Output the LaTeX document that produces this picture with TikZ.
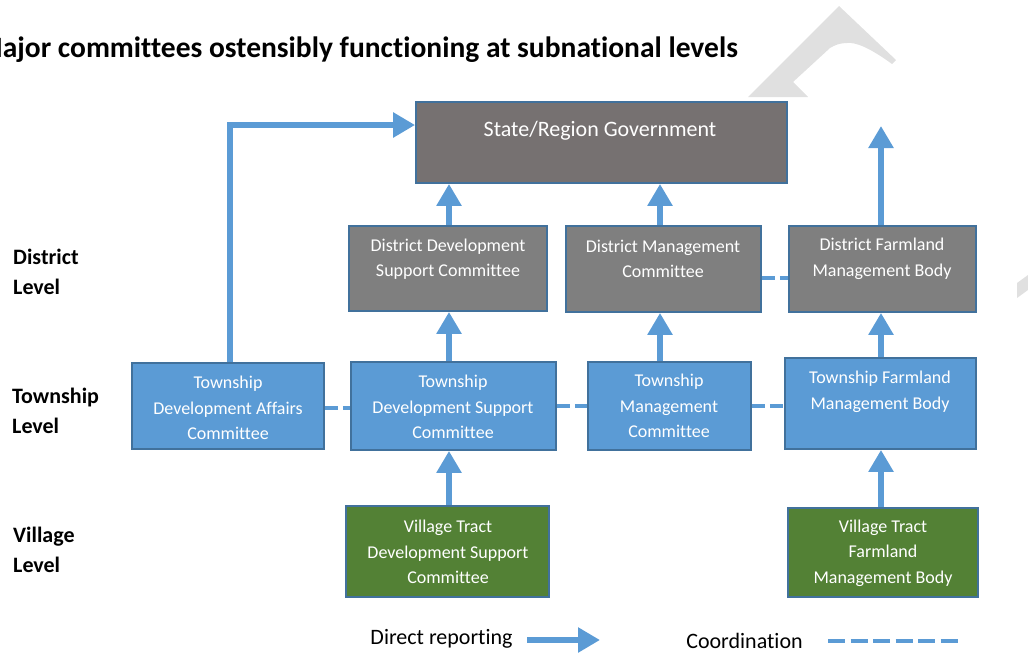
\documentclass[tikz,border=0pt]{standalone}
\usepackage{fontspec}
\setmainfont{Carlito}[Ligatures=NoCommon]
\usetikzlibrary{arrows.meta}

\definecolor{flowblue}{HTML}{5B9BD5}
\definecolor{edgeblue}{HTML}{41719C}
\definecolor{stategrey}{HTML}{767171}
\definecolor{distgrey}{HTML}{7F7F7F}
\definecolor{villgreen}{HTML}{538135}
\definecolor{markgrey}{HTML}{E0E0E0}

\begin{document}
\begin{tikzpicture}[x=1pt,y=-1pt,
  unit/.style={draw=edgeblue, line width=1.8pt, rectangle, inner sep=0pt},
  stateunit/.style={unit, fill=stategrey},
  distunit/.style={unit, fill=distgrey},
  townunit/.style={unit, fill=flowblue},
  villunit/.style={unit, fill=villgreen},
  boxtext/.style={text=white, align=center, inner sep=0pt,
    font=\fontsize{18}{25.5}\selectfont},
  leveltext/.style={anchor=west, align=left, inner sep=0pt,
    font=\bfseries\fontsize{22}{30}\selectfont},
  report/.style={draw=flowblue, line width=6.5pt,
    -{Triangle[width=24pt,length=22pt]}},
  coord/.style={draw=flowblue, line width=4.5pt, dash pattern=on 13pt off 5pt},
]
\useasboundingbox (0,0) rectangle (1028,654);

% faint watermark fragments
\fill[markgrey] (748,97) -- (839,6) -- (896,60) -- (892,64)
  .. controls (870,48) and (856,42) .. (847,43)
  .. controls (840,43) and (835,45) .. (830,48)
  -- (793,82) -- (808,97) -- cycle;
\fill[markgrey] (1017,283) -- (1028,275) -- (1028,290) -- (1017,298) -- cycle;

% title (runs past the left edge)
\node[anchor=east, inner sep=0pt, font=\bfseries\fontsize{29.5}{33}\selectfont]
  (title) at (738,50) {Major committees ostensibly functioning at subnational levels};

% level labels
\node[leveltext] (lvdist) at (13,272) {District\\Level};
\node[leveltext] (lvtown) at (12,410.5) {Township\\Level};
\node[leveltext] (lvvill) at (13,550) {Village\\Level};

% state level
\node[stateunit, minimum width=371pt, minimum height=81pt] (state) at (601.5,142.5) {};
\node[boxtext, font=\fontsize{22}{26}\selectfont] (statetx) at (600,131) {State/Region Government};

% district level
\node[distunit, minimum width=198pt, minimum height=85pt] (ddsc) at (448,268.5) {};
\node[boxtext] (ddsctx) at (448,259) {District Development\\Support Committee};
\node[distunit, minimum width=195pt, minimum height=86pt] (dmc) at (663.5,269) {};
\node[boxtext] (dmctx) at (663,259) {District Management\\Committee};
\node[distunit, minimum width=187pt, minimum height=86pt] (dfmb) at (882.5,269) {};
\node[boxtext] (dfmbtx) at (882,259) {District Farmland\\Management Body};

% township level
\node[townunit, minimum width=192pt, minimum height=86pt] (tdac) at (228,406) {};
\node[boxtext] (tdactx) at (228,408) {Township\\Development Affairs\\Committee};
\node[townunit, minimum width=205pt, minimum height=88pt] (tdsc) at (453.5,406) {};
\node[boxtext] (tdsctx) at (453,407) {Township\\Development Support\\Committee};
\node[townunit, minimum width=163pt, minimum height=88pt] (tmc) at (669.5,406) {};
\node[boxtext] (tmctx) at (669,406) {Township\\Management\\Committee};
\node[townunit, minimum width=191pt, minimum height=91pt] (tfmb) at (880.5,403.5) {};
\node[boxtext] (tfmbtx) at (880,392) {Township Farmland\\Management Body};

% village tract level
\node[villunit, minimum width=203pt, minimum height=91pt] (vtdsc) at (447.5,551.5) {};
\node[boxtext] (vtdsctx) at (448,552) {Village Tract\\Development Support\\Committee};
\node[villunit, minimum width=190pt, minimum height=89pt] (vtfmb) at (883,552.5) {};
\node[boxtext] (vtfmbtx) at (883,553) {Village Tract\\Farmland\\Management Body};

% direct reporting
\draw[report] ([xshift=1pt]ddsc.north) -- ([xshift=1pt]ddsc.north |- state.south);
\draw[report] ([xshift=-3.5pt]dmc.north) -- ([xshift=-3.5pt]dmc.north |- state.south);
\coordinate (dfmbout) at (881,126);
\draw[report] ([xshift=-1.5pt]dfmb.north) -- (dfmbout);
\draw[report] ([xshift=1pt]ddsc.south |- tdsc.north) -- ([xshift=1pt]ddsc.south);
\draw[report] ([xshift=-3.5pt]dmc.south |- tmc.north) -- ([xshift=-3.5pt]dmc.south);
\draw[report] ([xshift=-1.5pt]dfmb.south |- tfmb.north) -- ([xshift=-1.5pt]dfmb.south);
\draw[report] ([xshift=1pt]ddsc.south |- vtdsc.north) -- ([xshift=1pt]ddsc.south |- tdsc.south);
\draw[report] ([xshift=-1.5pt]dfmb.south |- vtfmb.north) -- ([xshift=-1.5pt]dfmb.south |- tfmb.south);
\draw[report] ([xshift=2pt]tdac.north) |- ([yshift=17.5pt]state.west);

% coordination
\draw[coord] ([yshift=-2pt]tdac.east) -- ([yshift=-2pt]tdac.east -| tdsc.west);
\draw[coord] (tdsc.east) -- (tdsc.east -| tmc.west);
\draw[coord] (tmc.east) -- (tmc.east -| tfmb.west);
\draw[coord] ([yshift=-9pt]dmc.east) -- ([yshift=-9pt]dmc.east -| dfmb.west);

% legend
\node[inner sep=0pt, font=\fontsize{22}{26}\selectfont] (legrep) at (441.5,639) {Direct reporting};
\coordinate (legrepa) at (527,640);
\coordinate (legrepb) at (600,640);
\draw[report] (legrepa) -- (legrepb);
\node[inner sep=0pt, font=\fontsize{22}{26}\selectfont] (legcoord) at (744.5,641) {Coordination};
\coordinate (legcoa) at (828,641);
\coordinate (legcob) at (958,641);
\draw[coord, dash pattern=on 17pt off 5.5pt] (legcoa) -- (legcob);
\end{tikzpicture}
\end{document}
